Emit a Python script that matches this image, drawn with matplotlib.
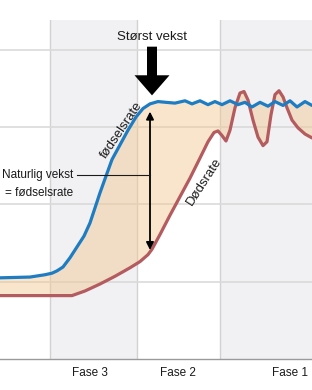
import matplotlib
matplotlib.use("Agg")
import matplotlib.pyplot as plt
from matplotlib.patches import FancyArrow
import numpy as np

plt.rcParams["font.family"] = ["Liberation Sans", "DejaVu Sans"]

# ==========================================
# DATA (x = time position, y = rate per 1000)
# ==========================================

birth_x = [0, 30, 45, 52, 57, 63, 70, 77, 84, 90, 100, 105, 112, 120, 128, 136,
           143, 150, 158, 166, 175, 185, 192, 200, 208, 215, 222, 230, 238, 245,
           252, 260, 268, 275, 283, 290, 297, 305, 312]
birth_rate = [10.5, 10.6, 10.9, 11.1, 11.4, 11.9, 13.1, 14.5, 15.9, 17.6, 21.5,
              23.3, 25.8, 27.7, 29.6, 31.3, 32.4, 33.0, 33.3, 33.2, 33.1, 33.4,
              33.0, 33.4, 32.9, 33.3, 32.9, 33.4, 32.9, 33.2, 32.6, 33.2, 32.7,
              33.3, 32.8, 33.4, 32.6, 33.3, 32.8]

death_x = [0, 72, 85, 100, 115, 130, 140, 148, 152, 160, 170, 180, 190, 200, 208,
           214, 218, 222, 226, 230, 235, 240, 244, 248, 253, 258, 263, 267, 271,
           275, 279, 283, 287, 292, 298, 305, 312]
death_rate = [8.2, 8.2, 8.8, 9.7, 10.7, 11.8, 12.6, 13.5, 14.2, 16.1, 18.6, 21.0,
              23.4, 26.0, 28.1, 29.3, 29.5, 28.9, 28.2, 29.6, 32.5, 34.4, 34.6,
              33.5, 30.9, 28.7, 27.6, 28.1, 31.6, 34.2, 34.7, 33.9, 32.5, 30.9,
              29.9, 29.1, 28.6]

phase_edges = [50, 137, 220]
phase_labels = ["Fase 3", "Fase 2", "Fase 1"]
phase_label_x = [90, 178, 290]
grid_levels = [10, 20, 30, 40]

# ==========================================
# FIGURE
# ==========================================

fig = plt.figure(figsize=(3.12, 3.9), dpi=100)
ax = fig.add_axes([0, 31 / 390, 1, 339 / 390])
ax.set_xlim(0, 312)
ax.set_ylim(0, 43.85)

# phase bands
ax.axvspan(phase_edges[0], phase_edges[1], color="#f1f1f4", zorder=0, lw=0)
ax.axvspan(phase_edges[2], 400, color="#f1f1f4", zorder=0, lw=0)
for x in phase_edges:
    ax.axvline(x, color="#d2d2d2", lw=1.0, zorder=1)

for level in grid_levels:
    ax.axhline(level, color="#dadada", lw=1.2, zorder=1)

# natural growth area
common_x = sorted(set(birth_x) | set(death_x))
b_on = np.interp(common_x, birth_x, birth_rate)
d_on = np.interp(common_x, death_x, death_rate)
ax.fill_between(common_x, b_on, d_on, color="#f3c68c", alpha=0.45, lw=0, zorder=2)

ax.plot(death_x, death_rate, color="#b35b5e", lw=2.3, zorder=3,
        solid_joinstyle="round", solid_capstyle="round")
ax.plot(birth_x, birth_rate, color="#1e7cc2", lw=2.3, zorder=4,
        solid_joinstyle="round", solid_capstyle="round")

# ==========================================
# ANNOTATIONS
# ==========================================

ax.text(152, 41.7, "Størst vekst", ha="center", va="center", fontsize=9.5,
        color="#1a1a1a")
ax.add_patch(FancyArrow(152, 40.4, 0, -6.3, width=10, head_width=35,
                        head_length=2.6, length_includes_head=True,
                        color="black", lw=0, zorder=5))

ax.annotate("", xy=(150, 32.0), xytext=(150, 14.1),
            arrowprops=dict(arrowstyle="<|-|>", color="black", lw=1.3,
                            mutation_scale=11, shrinkA=0, shrinkB=0), zorder=5)
ax.plot([77, 150], [23.8, 23.8], color="#1a1a1a", lw=0.8, zorder=5)
ax.text(73, 23.8, "Naturlig vekst", ha="right", va="center", fontsize=8.5,
        color="#1a1a1a")
ax.text(73, 21.5, "= fødselsrate", ha="right", va="center", fontsize=8.5,
        color="#1a1a1a")

ax.text(122, 29.6, "fødselsrate", ha="center", va="center", fontsize=9.5,
        rotation=56, rotation_mode="anchor", color="#1a1a1a")
ax.text(204, 23.0, "Dødsrate", ha="center", va="center", fontsize=9.5,
        rotation=57, rotation_mode="anchor", color="#1a1a1a")

for x, label in zip(phase_label_x, phase_labels):
    ax.text(x, -1.8, label, ha="center", va="center", fontsize=8.5,
            color="#1a1a1a", clip_on=False)

for side in ["top", "left", "right"]:
    ax.spines[side].set_visible(False)
ax.spines["bottom"].set_color("#9a9a9a")
ax.spines["bottom"].set_linewidth(1.0)
ax.set_xticks([])
ax.set_yticks([])

fig.savefig("out.png", dpi=100)
